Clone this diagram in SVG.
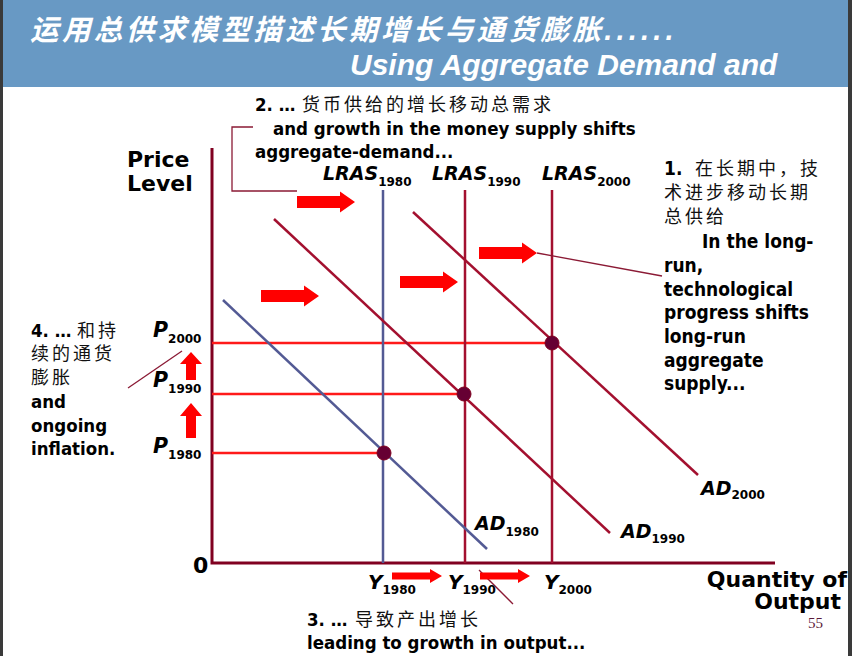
<svg xmlns="http://www.w3.org/2000/svg" width="852" height="656" viewBox="0 0 852 656">
  <defs>
    <style>
      .title { font-family: "Liberation Sans", "Noto Sans CJK SC", sans-serif; font-weight: bold; font-style: italic; fill: #ffffff; }
      .en { font-family: "DejaVu Sans Condensed", "DejaVu Sans", "Noto Sans CJK SC", sans-serif; font-stretch: condensed; font-weight: bold; font-size: 18.5px; fill: #000000; }
      .big { font-size: 19px; }
      .zh { font-family: "Noto Sans CJK SC", sans-serif; font-stretch: normal; font-weight: normal; font-size: 18px; letter-spacing: 3px; fill: #111111; }
      .lbl { font-family: "DejaVu Sans", sans-serif; font-weight: bold; font-style: italic; fill: #000000; }
      .sub { font-style: normal; font-size: 12px; }
      .axisname { font-family: "DejaVu Sans", sans-serif; font-weight: bold; font-size: 22px; fill: #000000; }
      .axis { stroke: #800020; stroke-width: 3; fill: none; }
      .blue { stroke: #535a94; stroke-width: 2.5; fill: none; }
      .crim { stroke: #a3102f; stroke-width: 2.5; fill: none; }
      .guide { stroke: #ff1a1a; stroke-width: 2.5; fill: none; }
      .lead { stroke: #8b1a35; stroke-width: 1.3; fill: none; }
      .dot { fill: #660033; stroke: #800020; stroke-width: 1; }
      .arrow { fill: #ff0000; }
    </style>
    <!-- right-pointing block arrow, tip at origin -->
    <polygon id="bigArrow" points="-58,-6 -15,-6 -15,-10.5 0,0 -15,10.5 -15,6 -58,6"/>
    <polygon id="smallArrow" points="-50,-3.5 -12,-3.5 -12,-7 0,0 -12,7 -12,3.5 -50,3.5"/>
    <!-- upward block arrows, tip at origin -->
    <polygon id="upArrowShort" points="0,0 11,12 5,12 5,28 -5,28 -5,12 -11,12"/>
    <polygon id="upArrowLong" points="0,0 11,13 5,13 5,35 -5,35 -5,13 -11,13"/>
  </defs>

  <rect x="0" y="0" width="852" height="656" fill="#ffffff"/>
  <!-- header band -->
  <rect x="0" y="0" width="852" height="87" fill="#6899c4"/>
  <rect x="0" y="0" width="3" height="656" fill="#3a3a3a"/>
  <rect x="848" y="0" width="4" height="656" fill="#3a3a3a"/>

  <g id="header">
    <text class="title" x="30" y="40" font-size="28.5" letter-spacing="3.4" font-family="Noto Sans CJK SC, sans-serif">运用总供求模型描述长期增长与通货膨胀<tspan font-family="Liberation Sans, sans-serif" font-size="29" letter-spacing="4.2">......</tspan></text>
    <text class="title" x="350" y="75" font-size="30">Using Aggregate Demand and</text>
  </g>

  <!-- axes -->
  <g id="axes">
    <path class="axis" d="M212,148 V563 H775"/>
    <text class="axisname" x="127" y="167">Price</text>
    <text class="axisname" x="127" y="191">Level</text>
    <text class="axisname" x="193" y="573">0</text>
    <text class="axisname" x="847" y="587" text-anchor="end">Quantity of</text>
    <text class="axisname" x="841" y="609" text-anchor="end">Output</text>
  </g>

  <!-- curves and guide lines -->
  <g id="connectors">
    <line class="guide" x1="212" y1="343" x2="552" y2="343"/>
    <line class="guide" x1="212" y1="394" x2="465" y2="394"/>
    <line class="guide" x1="212" y1="453" x2="384" y2="453"/>

    <line class="blue" x1="383" y1="190" x2="383" y2="563"/>
    <line class="crim" x1="465" y1="190" x2="465" y2="563"/>
    <line class="crim" x1="552" y1="190" x2="552" y2="563"/>

    <line class="blue" x1="223" y1="300" x2="487" y2="549"/>
    <line class="crim" x1="274" y1="219" x2="610" y2="533"/>
    <line class="crim" x1="413" y1="212" x2="698" y2="475"/>

    <!-- callout leaders -->
    <path class="lead" d="M253,127 H232 V191 H297"/>
    <line class="lead" x1="537" y1="253" x2="662" y2="276"/>
    <line class="lead" x1="128" y1="388" x2="182" y2="351"/>
    <line class="lead" x1="479" y1="570" x2="513" y2="604"/>
  </g>

  <g id="equilibria">
    <circle class="dot" cx="384" cy="453" r="7"/>
    <circle class="dot" cx="464" cy="394" r="7"/>
    <circle class="dot" cx="552" cy="343" r="7"/>
  </g>

  <!-- shift arrows -->
  <g id="shifts" class="arrow">
    <use href="#bigArrow" x="355" y="202"/>
    <use href="#bigArrow" x="319" y="296"/>
    <use href="#bigArrow" x="458" y="282"/>
    <use href="#bigArrow" x="537" y="253"/>
    <use href="#smallArrow" x="442" y="576"/>
    <use href="#smallArrow" x="530" y="576"/>
    <use href="#upArrowShort" x="191" y="352"/>
    <use href="#upArrowLong" x="191" y="403"/>
  </g>

  <!-- curve labels -->
  <g id="lras-labels">
    <text class="lbl" x="323" y="180" font-size="19">LRAS<tspan class="sub" dy="6">1980</tspan></text>
    <text class="lbl" x="432" y="180" font-size="19">LRAS<tspan class="sub" dy="6">1990</tspan></text>
    <text class="lbl" x="542" y="180" font-size="19">LRAS<tspan class="sub" dy="6">2000</tspan></text>
  </g>
  <g id="ad-labels">
    <text class="lbl" x="475" y="530" font-size="19">AD<tspan class="sub" dy="6">1980</tspan></text>
    <text class="lbl" x="621" y="538" font-size="19">AD<tspan class="sub" dy="5">1990</tspan></text>
    <text class="lbl" x="701" y="495" font-size="19">AD<tspan class="sub" dy="4">2000</tspan></text>
  </g>
  <g id="price-labels">
    <text class="lbl" x="153" y="337" font-size="20.5">P<tspan class="sub" dy="6">2000</tspan></text>
    <text class="lbl" x="153" y="387" font-size="20.5">P<tspan class="sub" dy="6">1990</tspan></text>
    <text class="lbl" x="153" y="453" font-size="20.5">P<tspan class="sub" dy="6">1980</tspan></text>
  </g>
  <g id="output-labels">
    <text class="lbl" x="368" y="589" font-size="20">Y<tspan class="sub" dy="5">1980</tspan></text>
    <text class="lbl" x="448" y="589" font-size="20">Y<tspan class="sub" dy="5">1990</tspan></text>
    <text class="lbl" x="544" y="589" font-size="20">Y<tspan class="sub" dy="5">2000</tspan></text>
  </g>

  <!-- callout 2: money supply -->
  <g id="note-demand">
    <text class="en" x="255" y="111">2. …<tspan class="zh" x="302" y="111">货币供给的增长移动总需求</tspan></text>
    <text class="en" x="273" y="135">and growth in the money supply shifts</text>
    <text class="en" x="255" y="158">aggregate-demand...</text>
  </g>

  <!-- callout 1: technology -->
  <g id="note-supply">
    <text class="en big" x="664" y="175">1.<tspan class="zh" x="695">在长期中，技</tspan></text>
    <text class="zh" x="664" y="199">术进步移动长期</text>
    <text class="zh" x="664" y="223">总供给</text>
    <text class="en big" x="702" y="248">In the long-</text>
    <text class="en big" x="664" y="272">run,</text>
    <text class="en big" x="664" y="296">technological</text>
    <text class="en big" x="664" y="319">progress shifts</text>
    <text class="en big" x="664" y="343">long-run</text>
    <text class="en big" x="664" y="367">aggregate</text>
    <text class="en big" x="664" y="390">supply...</text>
  </g>

  <!-- callout 4: inflation -->
  <g id="note-inflation">
    <text class="en" x="31" y="337">4. …<tspan class="zh" x="77">和持</tspan></text>
    <text class="zh" x="31" y="360">续的通货</text>
    <text class="zh" x="31" y="384">膨胀</text>
    <text class="en" x="31" y="408">and</text>
    <text class="en" x="31" y="432">ongoing</text>
    <text class="en" x="31" y="455">inflation.</text>
  </g>

  <!-- callout 3: output -->
  <g id="note-output">
    <text class="en" x="307" y="626">3. …<tspan class="zh" x="355">导致产出增长</tspan></text>
    <text class="en" x="307" y="649">leading to growth in output...</text>
  </g>

  <text x="808" y="628" font-family="Liberation Serif, serif" font-size="15" fill="#5a1a3a">55</text>
</svg>
